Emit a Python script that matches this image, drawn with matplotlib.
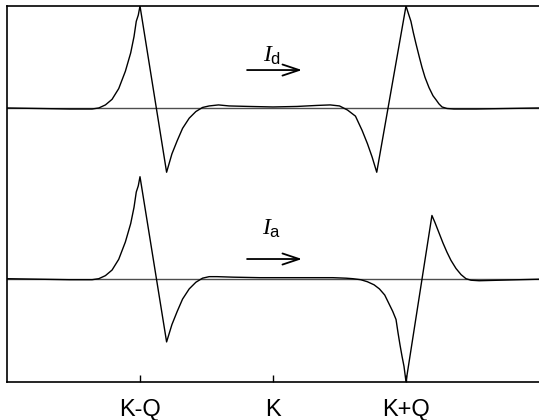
import matplotlib
matplotlib.use("Agg")
from matplotlib import pyplot as plt

plt.rcParams['font.family'] = ['Liberation Sans', 'DejaVu Sans']
plt.rcParams['mathtext.fontset'] = 'custom'
plt.rcParams['mathtext.it'] = 'Liberation Serif:italic'
plt.rcParams['mathtext.rm'] = 'Liberation Sans'

# ------------- Data --------------------------------------

tick_pos = [-1, 0, 1]
tick_labels = ["K-Q", "K", "K+Q"]

# upper curve (I_d), values relative to its own baseline
x_d = [-2.0, -1.76, -1.53, -1.36, -1.31, -1.26, -1.21, -1.16, -1.11, -1.07,
       -1.045, -1.028, -1.013, -1.0, -0.8, -0.76, -0.72, -0.68, -0.63, -0.58,
       -0.53, -0.48, -0.41, -0.33, -0.18, 0.0,
       0.18, 0.33, 0.43, 0.5, 0.56, 0.62, 0.67, 0.71, 0.745, 0.78,
       1.0, 1.017, 1.037, 1.055, 1.075, 1.1, 1.12, 1.143, 1.173, 1.203,
       1.226, 1.248, 1.271, 1.308, 1.36, 1.53, 1.76, 2.0]
y_d = [0.0, -0.005, -0.01, -0.01, 0.0, 0.03, 0.085, 0.19, 0.36, 0.54,
       0.70, 0.85, 0.91, 1.0, -0.63, -0.45, -0.32, -0.2, -0.1, -0.035,
       0.005, 0.02, 0.03, 0.02, 0.015, 0.01,
       0.015, 0.025, 0.03, 0.02, -0.02, -0.08, -0.22, -0.35, -0.48, -0.63,
       1.0, 0.93, 0.85, 0.74, 0.63, 0.5, 0.4, 0.3, 0.2, 0.12,
       0.08, 0.04, 0.01, -0.005, -0.01, -0.01, -0.005, 0.0]

# lower curve (I_a)
x_a = [-2.0, -1.76, -1.53, -1.36, -1.31, -1.26, -1.21, -1.16, -1.11, -1.07,
       -1.045, -1.028, -1.013, -1.0, -0.8, -0.76, -0.72, -0.68, -0.63, -0.58,
       -0.53, -0.48, -0.42, -0.3, -0.1, 0.1, 0.3, 0.45, 0.55, 0.6, 0.66,
       0.71, 0.76, 0.8, 0.84, 0.87, 0.9, 0.925, 0.94, 0.955, 0.97, 0.985,
       1.0, 1.195, 1.218, 1.248, 1.278, 1.308, 1.338, 1.376, 1.414, 1.451,
       1.489, 1.55, 1.7, 1.85, 2.0]
y_a = [0.0, -0.005, -0.01, -0.01, 0.0, 0.03, 0.085, 0.19, 0.36, 0.54,
       0.70, 0.85, 0.91, 1.0, -0.62, -0.45, -0.32, -0.2, -0.1, -0.035,
       0.005, 0.02, 0.02, 0.015, 0.01, 0.01, 0.01, 0.01, 0.005, 0.0, -0.01,
       -0.03, -0.06, -0.1, -0.16, -0.24, -0.32, -0.4, -0.53, -0.65, -0.76, -0.86,
       -1.01, 0.62, 0.55, 0.45, 0.35, 0.26, 0.18, 0.1, 0.04, 0.0,
       -0.015, -0.02, -0.015, -0.01, -0.005]

offset_d = 1.674
labels = [r'$I_{\mathrm{d}}$', r'$I_{\mathrm{a}}$']


# ------------- Display ---------------

fig = plt.figure(figsize=(5.39, 4.2), dpi=100)
ax = fig.add_axes([7 / 539, 38 / 420, 532 / 539, 376 / 420])

ax.axhline(offset_d, color='0.3', lw=1.0)
ax.axhline(0, color='0.3', lw=1.0)
ax.plot(x_d, [v + offset_d for v in y_d], color='black', lw=1.0)
ax.plot(x_a, y_a, color='black', lw=1.0)

ax.set_xlim(-2, 2)
ax.set_ylim(-1.013, 2.674)

ax.set_xticks(tick_pos)
ax.set_xticklabels(tick_labels, fontsize=17)
ax.set_yticks([])
ax.tick_params(axis='x', direction='in', length=5, width=1, pad=12)
ax.spines['right'].set_visible(False)
for s in ['left', 'top', 'bottom']:
	ax.spines[s].set_linewidth(1.2)

arrow = dict(arrowstyle='->, head_length=0.6, head_width=0.2', lw=1.3,
             color='black', mutation_scale=20, shrinkA=0, shrinkB=0)
ax.annotate('', xy=(0.218, 2.046), xytext=(-0.195, 2.046), arrowprops=arrow)
ax.annotate('', xy=(0.218, 0.193), xytext=(-0.195, 0.193), arrowprops=arrow)

ax.text(-0.008, 2.19, labels[0], fontsize=17, ha='center', va='center')
ax.text(-0.01, 0.49, labels[1], fontsize=17, ha='center', va='center')

fig.savefig('out.png', dpi=100)
